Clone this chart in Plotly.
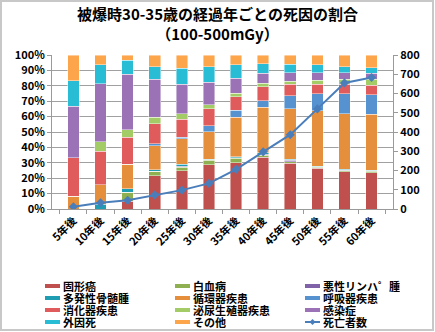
import plotly.graph_objects as go

# Years elapsed since exposure
categories = ["5年後", "10年後", "15年後", "20年後", "25年後", "30年後",
              "35年後", "40年後", "45年後", "50年後", "55年後", "60年後"]

# Share of deaths by cause (%), per period
solid_cancer = [0, 0, 5.0, 21.6, 25.0, 28.7, 30.0, 33.5, 29.6, 26.4, 24.2, 23.6]
leukemia = [0, 0, 6.0, 2.8, 2.2, 2.8, 2.8, 1.5, 1.1, 0.6, 0.6, 0.8]
lymphoma = [0, 0, 0, 0, 0.5, 0.5, 0.5, 0.7, 0.8, 0.5, 0.5, 0.5]
myeloma = [0, 3.1, 2.0, 1.1, 1.2, 0.4, 0.6, 0.8, 0.7, 0.4, 0.5, 0.4]
circulatory = [8.3, 12.5, 16.0, 15.5, 16.6, 17.9, 25.8, 29.6, 32.8, 36.0, 36.0, 36.1]
respiratory = [0, 0, 0, 1.3, 1.1, 3.7, 4.3, 4.3, 8.6, 10.8, 12.9, 12.8]
digestive = [25.0, 21.9, 17.5, 13.0, 11.6, 11.0, 9.0, 9.0, 7.5, 6.4, 6.4, 6.3]
genitourinary = [0, 6.2, 5.0, 4.3, 3.5, 2.6, 2.1, 2.1, 1.7, 2.6, 3.2, 3.8]
infection = [33.4, 37.5, 36.0, 24.6, 19.4, 14.7, 9.9, 6.5, 5.8, 4.9, 4.3, 3.7]
external = [16.7, 12.5, 9.0, 8.2, 10.4, 10.1, 8.6, 6.4, 5.4, 5.0, 3.7, 3.8]
other = [16.6, 6.3, 3.5, 7.6, 8.5, 7.6, 6.4, 5.6, 6.0, 6.4, 7.7, 8.2]

# Number of deaths per period (right axis)
deaths = [12, 32, 45, 73, 98, 133, 206, 297, 386, 520, 655, 683]

series = [
    ("固形癌", solid_cancer, "#C0504D"),
    ("白血病", leukemia, "#8FB050"),
    ("悪性リンハ\u309c腫", lymphoma, "#7F62A8"),
    ("多発性骨髄腫", myeloma, "#1F9DB3"),
    ("循環器疾患", circulatory, "#E58E3C"),
    ("呼吸器疾患", respiratory, "#5692D0"),
    ("消化器疾患", digestive, "#E05B5B"),
    ("泌尿生殖器疾患", genitourinary, "#A3CC66"),
    ("感染症", infection, "#9C72B6"),
    ("外因死", external, "#29BCD5"),
    ("その他", other, "#FDA54B"),
]
LINE_NAME, LINE_COLOR = "死亡者数", "#4A7EBB"

FONT = "Noto Sans CJK JP"
W, H = 435, 332
ML, MR, MT, MB = 52, 42, 55, 123
pw = W - ML - MR
ph = H - MT - MB


def px_x(x):
    """Figure pixel column -> paper x."""
    return (x - ML) / pw


def px_y(y):
    """Figure pixel row -> paper y."""
    return (MT + ph - y) / ph


fig = go.Figure()
for name, vals, color in series:
    fig.add_trace(go.Bar(
        x=categories, y=vals, name=name, showlegend=False,
        marker=dict(color=color, line=dict(color="rgba(255,255,255,0.55)", width=0.8)),
    ))

fig.add_trace(go.Scatter(
    x=categories, y=deaths, name=LINE_NAME, yaxis="y2", mode="lines+markers",
    showlegend=False,
    line=dict(color=LINE_COLOR, width=2),
    marker=dict(symbol="diamond", size=7, color=LINE_COLOR),
))

# Compact three-column key below the chart (row-major order)
shapes = [dict(
    type="rect", xref="paper", yref="paper",
    x0=px_x(1), x1=px_x(W - 2), y0=px_y(H - 2), y1=px_y(1),
    line=dict(color="#c8c8c8", width=2), fillcolor="rgba(0,0,0,0)",
)]
annotations = []
key_items = [(n, c, "bar") for n, _, c in series] + [(LINE_NAME, LINE_COLOR, "line")]
col_x = [45, 175, 305]
row_y = [286, 298, 310, 322]
sw_len = 15
for i, (name, color, kind) in enumerate(key_items):
    cx, cy = col_x[i % 3], row_y[i // 3]
    if kind == "bar":
        shapes.append(dict(
            type="rect", xref="paper", yref="paper",
            x0=px_x(cx), x1=px_x(cx + sw_len), y0=px_y(cy + 2), y1=px_y(cy - 2),
            line=dict(width=0), fillcolor=color,
        ))
    else:
        shapes.append(dict(
            type="line", xref="paper", yref="paper",
            x0=px_x(cx), x1=px_x(cx + sw_len), y0=px_y(cy), y1=px_y(cy),
            line=dict(color=color, width=2),
        ))
        mx = cx + sw_len / 2
        d = 3
        shapes.append(dict(
            type="path", xref="paper", yref="paper",
            path=(f"M {px_x(mx - d)} {px_y(cy)} L {px_x(mx)} {px_y(cy - d)} "
                  f"L {px_x(mx + d)} {px_y(cy)} L {px_x(mx)} {px_y(cy + d)} Z"),
            line=dict(width=0), fillcolor=color,
        ))
    annotations.append(dict(
        text=f"<b>{name}</b>", xref="paper", yref="paper",
        x=px_x(cx + sw_len + 2), y=px_y(cy), xanchor="left", yanchor="middle",
        height=12, valign="middle", borderpad=0,
        showarrow=False, font=dict(family=FONT, size=11, color="black"),
    ))

fig.update_layout(
    width=W, height=H,
    margin=dict(l=ML, r=MR, t=MT, b=MB, autoexpand=False),
    paper_bgcolor="white", plot_bgcolor="white",
    barmode="stack", bargap=0.57,
    showlegend=False,
    font=dict(family=FONT, size=11, color="black"),
    title=dict(
        text="<b>被爆時30-35歳の経過年ごとの死因の割合<br>（100-500mGy）</b>",
        x=0.5, xanchor="center", xref="container",
        y=1 - 20 / H, yanchor="middle", yref="container",
        font=dict(family=FONT, size=15, color="black"),
    ),
    xaxis=dict(
        type="category", tickangle=-45, showgrid=False,
        showline=True, linecolor="#9a9a9a", linewidth=1,
        ticks="outside", ticklen=4, tickcolor="#9a9a9a", tickson="boundaries",
        tickfont=dict(family=FONT, size=11, color="black", weight="bold"),
    ),
    yaxis=dict(
        range=[0, 100], dtick=10, ticksuffix="%",
        showgrid=True, gridcolor="#a0a0a0", gridwidth=1,
        showline=True, linecolor="#9a9a9a", linewidth=1,
        ticks="outside", ticklen=4, tickcolor="#9a9a9a",
        tickfont=dict(family=FONT, size=11, color="black", weight="bold"),
        zeroline=False,
    ),
    yaxis2=dict(
        range=[0, 800], dtick=100, overlaying="y", side="right",
        showgrid=False, showline=True, linecolor="#9a9a9a", linewidth=1,
        ticks="outside", ticklen=4, tickcolor="#9a9a9a",
        tickfont=dict(family=FONT, size=11, color="black", weight="bold"),
        zeroline=False,
    ),
    shapes=shapes,
    annotations=annotations,
)

fig.write_html("out.html")
